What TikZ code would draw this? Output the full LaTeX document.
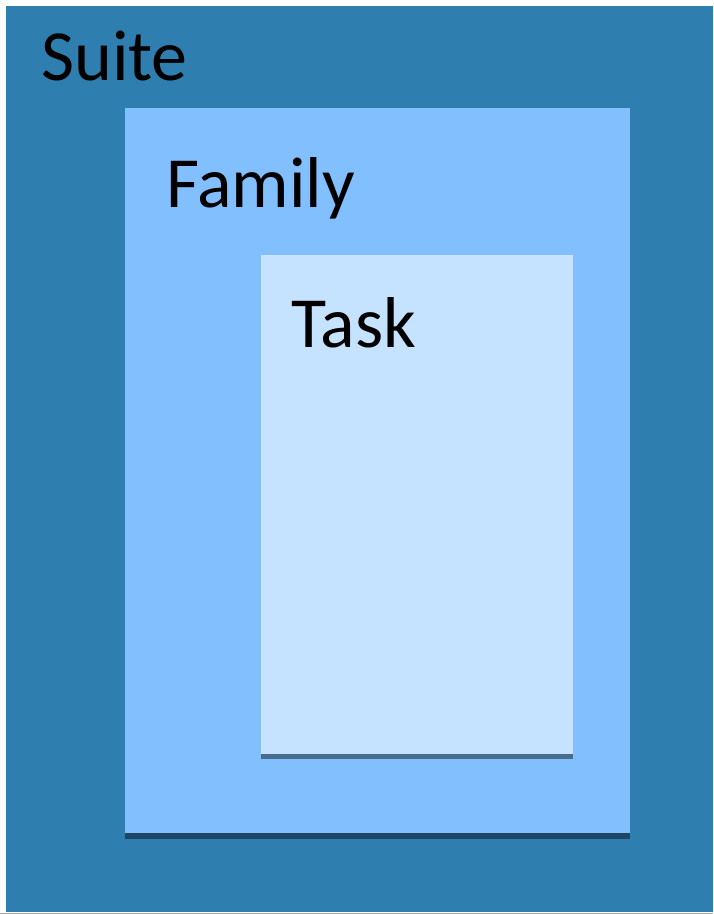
\documentclass[tikz,border=0pt]{standalone}
\usepackage{fontspec}
\setmainfont{Carlito}
\definecolor{suiteblue}{RGB}{46,126,175}
\definecolor{familyblue}{RGB}{129,191,254}
\definecolor{taskblue}{RGB}{197,226,254}
\definecolor{famshadow}{RGB}{30,70,100}
\definecolor{taskshadow}{RGB}{74,108,140}
\tikzset{
  lbl/.style={anchor=base west, inner sep=0pt, font=\fontsize{72}{80}\selectfont, text=black}
}
\begin{document}
\begin{tikzpicture}[x=1pt,y=-1pt]
\useasboundingbox (0,0) rectangle (713,914);
\fill[white] (0,0) rectangle (713,914);
% suite
\fill[suiteblue] (6,6) rectangle (713,912);
\fill[gray!70] (0,912.5) rectangle (713,914);
% family
\fill[famshadow] (125,828) rectangle (630,839);
\fill[familyblue] (125,108) rectangle (630,833);
% task
\fill[taskshadow] (261,750) rectangle (573,759);
\fill[taskblue] (261,255) rectangle (573,754);
\draw[white!60!familyblue, line width=1pt] (261.5,754) -- (261.5,255.5) -- (573,255.5);
\node[lbl] (suite) at (41,80) {Suite};
\node[lbl] (family) at (166,207) {Family};
\node[lbl] (task) at (291,347) {Task};
\end{tikzpicture}
\end{document}
